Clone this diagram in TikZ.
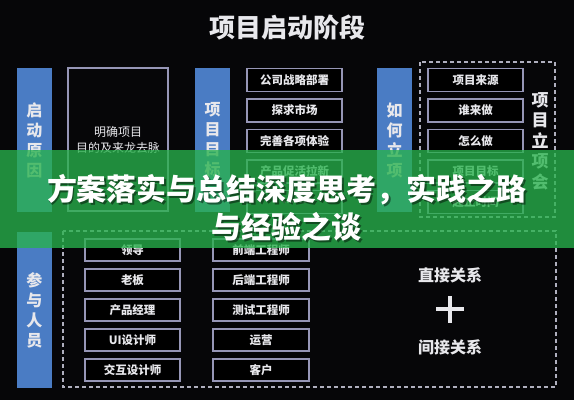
\documentclass[tikz,border=0pt]{standalone}
\usepackage{fontspec}
\setmainfont{Noto Sans CJK SC}
\definecolor{bgc}{RGB}{6,6,8}
\definecolor{barblue}{RGB}{74,124,196}
\definecolor{boxline}{RGB}{150,150,182}
\definecolor{txt}{RGB}{232,232,236}
\definecolor{dashc}{RGB}{175,175,190}
\definecolor{bandgreen}{RGB}{40,178,76}
\tikzset{
  bar/.style={fill=barblue, draw=none, minimum width=35, inner sep=0, align=center,
    text=txt, font=\fontsize{16}{20}\selectfont\bfseries},
  itembox/.style={draw=boxline, line width=1.3, fill=black, minimum width=95, minimum height=23,
    inner sep=0, text=txt, font=\fontsize{11.5}{14}\selectfont\bfseries},
  dashbox/.style={draw=dashc, line width=1.4, dash pattern=on 4 off 3},
}
\begin{document}
\begin{tikzpicture}[x=1pt,y=-1pt]
\useasboundingbox (0,0) rectangle (574,400);
\fill[bgc] (0,0) rectangle (574,400);
% title
\node[text=txt, font=\fontsize{26}{30}\selectfont\bfseries] (title) at (287,27) {项目启动阶段};
% top section bars
\node[bar, minimum height=144] (b1) at (34.5,140) {启\\动\\原\\因};
\node[bar, minimum height=144] (b2) at (212.5,140) {项\\目\\目\\标};
\node[bar, minimum height=144] (b3) at (394.5,140) {如\\何\\立\\项};
% reason box
\node[draw=boxline, line width=1.3, minimum width=100, minimum height=143, inner sep=0, align=center,
  text=txt, font=\fontsize{12}{16}\selectfont] (reason) at (118,139.5) {明确项目\\目的及来龙去脉};
% column 2
\node[itembox] (g1) at (294.5,80) {公司战略部署};
\node[itembox] (g2) at (294.5,110.5) {探求市场};
\node[itembox] (g3) at (294.5,141) {完善各项体验};
\node[itembox] (g4) at (294.5,171.5) {产品促活拉新};
\node[itembox] (g5) at (294.5,202) {......};
% right dashed frame
\draw[dashbox] (420,62) rectangle (555,217);
\node[itembox] (h1) at (475.5,80) {项目来源};
\node[itembox] (h2) at (475.5,110.5) {谁来做};
\node[itembox] (h3) at (475.5,141) {怎么做};
\node[itembox] (h4) at (475.5,171.5) {项目目标};
\node[itembox] (h5) at (475.5,202) {起止时间};
\node[align=center, inner sep=0, text=txt, font=\fontsize{17}{20.5}\selectfont\bfseries] (meet) at (540,141) {项\\目\\立\\项\\会};
% bottom section
\node[bar, minimum height=156] (b4) at (34.5,310) {参\\与\\人\\员};
\draw[dashbox] (63,231) rectangle (556,387);
\node[itembox, minimum height=22] (p1) at (132.5,250) {领导};
\node[itembox, minimum height=22] (p2) at (132.5,280) {老板};
\node[itembox, minimum height=22] (p3) at (132.5,310) {产品经理};
\node[itembox, minimum height=22] (p4) at (132.5,340) {UI设计师};
\node[itembox, minimum height=22] (p5) at (132.5,370) {交互设计师};
\node[itembox, minimum height=22, minimum width=96] (q1) at (261,250) {前端工程师};
\node[itembox, minimum height=22, minimum width=96] (q2) at (261,280) {后端工程师};
\node[itembox, minimum height=22, minimum width=96] (q3) at (261,310) {测试工程师};
\node[itembox, minimum height=22, minimum width=96] (q4) at (261,340) {运营};
\node[itembox, minimum height=22, minimum width=96] (q5) at (261,370) {客户};
\node[text=txt, font=\fontsize{16}{20}\selectfont\bfseries] (direct) at (450,275) {直接关系};
\coordinate (plus) at (450,309);
\draw[txt, line width=3.6] ([xshift=-14]plus) -- ([xshift=14]plus);
\draw[txt, line width=3.6] ([yshift=-13.5]plus) -- ([yshift=13.5]plus);
\node[text=txt, font=\fontsize{16}{20}\selectfont\bfseries] (indirect) at (450,347) {间接关系};
% green band overlay
\fill[bandgreen, opacity=0.78] (0,150) rectangle (574,248);
\node[align=center, text=black, opacity=0.45, font=\fontsize{30}{38}\selectfont\bfseries] (shadow) at (288.5,209.5) {方案落实与总结深度思考，实践之路\\与经验之谈};
\node[align=center, text=white, font=\fontsize{30}{38}\selectfont\bfseries] (head) at (287,208) {方案落实与总结深度思考，实践之路\\与经验之谈};
\end{tikzpicture}
\end{document}
